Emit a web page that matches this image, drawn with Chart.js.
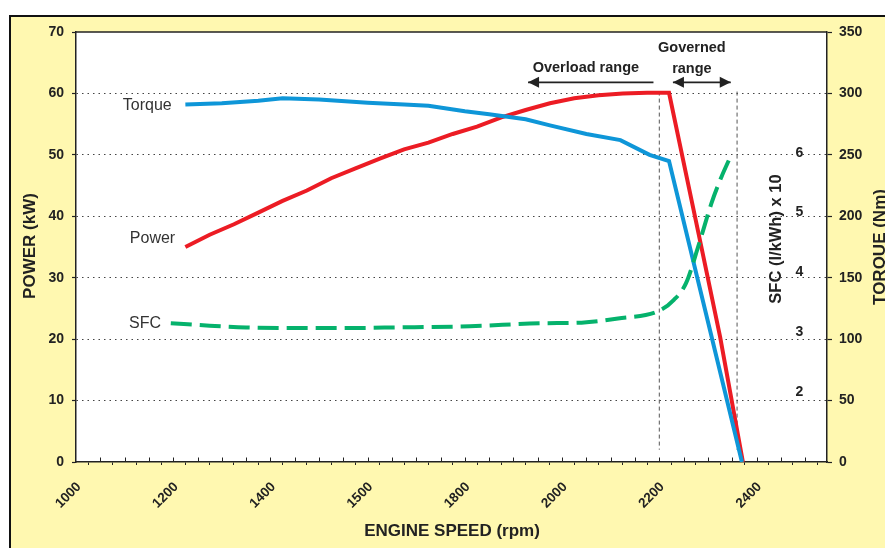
<!DOCTYPE html>
<html>
<head>
<meta charset="utf-8">
<script src="https://cdn.jsdelivr.net/npm/chart.js@4.4.1/dist/chart.umd.min.js"></script>
<style>
  html, body { margin: 0; padding: 0; background: #fff; }
  #wrap { position: relative; width: 885px; height: 548px; overflow: hidden; }
  #frame { position: absolute; left: 9px; top: 15px; width: 900px; height: 560px; background: #fff8b0; border: 2.5px solid #111; }
  #myChart { position: absolute; left: 0; top: 0; }
</style>
</head>
<body>
<div id="wrap">
  <div id="frame"></div>
  <canvas id="myChart" width="885" height="548"></canvas>
</div>
<script>
// values
let rpmTorque = [1225, 1300, 1375, 1425, 1500, 1600, 1675, 1725, 1800, 1850, 1925, 1975, 2050, 2120, 2180, 2220, 2370];
let torqueNm = [291, 292, 294, 296, 295, 292.5, 291, 290, 285.5, 283, 279, 274, 267, 262, 250, 245, 0];

let rpmPower = [1225, 1275, 1325, 1375, 1425, 1475, 1525, 1575, 1625, 1675, 1725, 1775, 1825, 1875, 1925, 1975, 2025, 2075, 2125, 2175, 2220, 2285, 2325, 2372];
let powerKw = [35, 37, 38.7, 40.6, 42.5, 44.2, 46.2, 47.8, 49.4, 50.9, 52, 53.4, 54.6, 56.1, 57.3, 58.4, 59.2, 59.7, 60, 60.1, 60.1, 35.6, 20.4, 0];

let rpmSfc = [1195, 1275, 1350, 1430, 1550, 1660, 1810, 1960, 2040, 2115, 2200, 2230, 2255, 2280, 2307, 2328, 2345];
let sfcValues = [3.15, 3.11, 3.08, 3.07, 3.07, 3.08, 3.10, 3.15, 3.16, 3.23, 3.36, 3.54, 3.82, 4.43, 5.15, 5.60, 5.91];

let rangeLimits = [2200, 2360];
let xTickValues = [1000, 1200, 1400, 1600, 1800, 2000, 2200, 2400];
let xTickLabels = ["1000", "1200", "1400", "1500", "1800", "2000", "2200", "2400"];
let sfcTicks = [2, 3, 4, 5, 6];

function pairs(xs, ys) {
  return xs.map((x, i) => ({ x: x, y: ys[i] }));
}

Chart.defaults.font.family = "'Liberation Sans', Arial, sans-serif";
Chart.defaults.color = "#222";

let ink = "#222";
let tickFont = { size: 14, weight: "bold" };

function arrow(ctx, x1, x2, y, headLeft, headRight) {
  ctx.beginPath();
  ctx.moveTo(x1, y);
  ctx.lineTo(x2, y);
  ctx.stroke();
  let head = (tip, dir) => {
    ctx.beginPath();
    ctx.moveTo(tip, y);
    ctx.lineTo(tip + dir * 11, y - 5.5);
    ctx.lineTo(tip + dir * 11, y + 5.5);
    ctx.closePath();
    ctx.fill();
  };
  if (headLeft) head(x1, 1);
  if (headRight) head(x2, -1);
}

function vText(ctx, text, x, y) {
  ctx.save();
  ctx.translate(x, y);
  ctx.rotate(-Math.PI / 2);
  ctx.textAlign = "center";
  ctx.textBaseline = "middle";
  ctx.fillText(text, 0, 0);
  ctx.restore();
}

let decorations = {
  id: "decorations",
  beforeDraw(chart) {
    let { ctx, chartArea: a } = chart;
    ctx.save();
    ctx.fillStyle = "#fff";
    ctx.fillRect(a.left, a.top, a.right - a.left, a.bottom - a.top);
    ctx.restore();
  },
  afterDraw(chart) {
    let { ctx, chartArea: a, scales } = chart;
    let sx = scales.x, sy = scales.y;
    ctx.save();
    ctx.strokeStyle = ink;
    ctx.fillStyle = ink;

    // top edge of plot box
    ctx.lineWidth = 1.5;
    ctx.beginPath();
    ctx.moveTo(a.left, a.top);
    ctx.lineTo(a.right, a.top);
    ctx.stroke();

    // inward ticks every 50 rpm
    ctx.lineWidth = 1;
    sx.ticks.forEach(t => {
      if (t.value % 50 === 0 && t.value > sx.min) {
        let px = Math.round(sx.getPixelForValue(t.value)) + 0.5;
        ctx.beginPath();
        ctx.moveTo(px, a.bottom);
        ctx.lineTo(px, a.bottom - 4.5);
        ctx.stroke();
      }
    });

    // range arrows
    ctx.lineWidth = 1.7;
    let ay = sy.getPixelForValue(61.8);
    arrow(ctx, sx.getPixelForValue(1930), sx.getPixelForValue(2188), ay, true, false);
    arrow(ctx, sx.getPixelForValue(2228), sx.getPixelForValue(2347), ay, true, true);

    ctx.font = "bold 14.5px 'Liberation Sans', Arial, sans-serif";
    ctx.textAlign = "center";
    ctx.textBaseline = "middle";
    ctx.fillText("Overload range", sx.getPixelForValue(2049), sy.getPixelForValue(64.2));
    ctx.fillText("Governed", sx.getPixelForValue(2267), sy.getPixelForValue(67.4));
    ctx.fillText("range", sx.getPixelForValue(2267), sy.getPixelForValue(64.0));

    // curve names
    ctx.fillStyle = "#333";
    ctx.font = "16px 'Liberation Sans', Arial, sans-serif";
    ctx.textAlign = "right";
    ctx.fillText("Torque", sx.getPixelForValue(1197), sy.getPixelForValue(57.95));
    ctx.fillText("Power", sx.getPixelForValue(1204), sy.getPixelForValue(36.4));
    ctx.fillText("SFC", sx.getPixelForValue(1175), sy.getPixelForValue(22.46));

    // axis titles
    ctx.fillStyle = ink;
    ctx.font = "bold 17px 'Liberation Sans', Arial, sans-serif";
    ctx.textAlign = "center";
    ctx.fillText("ENGINE SPEED (rpm)", 452, 531);
    vText(ctx, "POWER (kW)", 30, 246);
    vText(ctx, "TORQUE (Nm)", 880, 247);
    ctx.font = "bold 16.5px 'Liberation Sans', Arial, sans-serif";
    vText(ctx, "SFC (l/kWh) x 10", 776, 239);
    ctx.restore();
  }
};

let ctx = document.getElementById("myChart");

let graphData = {
  type: "line",
  data: {
    datasets: [
      {
        label: "SFC",
        data: pairs(rpmSfc, sfcValues),
        yAxisID: "sfc",
        borderColor: "#05b26c",
        borderWidth: 4,
        borderDash: [21, 8],
        pointRadius: 0,
        tension: 0.35,
        cubicInterpolationMode: "monotone",
        fill: false,
      },
      {
        label: "Torque",
        data: pairs(rpmTorque, torqueNm),
        yAxisID: "y2",
        borderColor: "#0e96d8",
        borderWidth: 4,
        pointRadius: 0,
        tension: 0,
        fill: false,
      },
      {
        label: "Power",
        data: pairs(rpmPower, powerKw),
        yAxisID: "y",
        borderColor: "#ec1c24",
        borderWidth: 4,
        pointRadius: 0,
        tension: 0,
        fill: false,
      },
      ...rangeLimits.map(r => ({
        label: "limit " + r,
        data: [{ x: r, y: 60.3 }, { x: r, y: 2 }],
        yAxisID: "y",
        borderColor: "#555",
        borderWidth: 1,
        borderDash: [4, 3],
        pointRadius: 0,
        fill: false,
      })),
    ],
  },
  options: {
    responsive: false,
    animation: false,
    devicePixelRatio: 1,
    layout: { padding: { top: 32, left: 0, right: 0, bottom: 0 } },
    plugins: { legend: { display: false }, tooltip: { enabled: false } },
    scales: {
      x: {
        type: "linear",
        position: "bottom",
        min: 1000,
        max: 2545,
        afterBuildTicks: s => {
          let t = [];
          for (let v = 1000; v <= 2525; v += 25) t.push({ value: v });
          s.ticks = t;
        },
        afterFit: s => { s.height = 86; },
        grid: {
          drawOnChartArea: false,
          tickLength: 3,
          tickColor: c => (c.tick && c.tick.value % 50 === 0 ? "rgba(0,0,0,0)" : ink),
        },
        border: { color: ink, width: 1.5 },
        ticks: {
          autoSkip: false,
          maxRotation: 45,
          minRotation: 45,
          padding: 14,
          labelOffset: 3,
          color: ink,
          font: { size: 13.5, weight: "bold" },
          callback: v => {
            let i = xTickValues.indexOf(v);
            return i >= 0 ? xTickLabels[i] : "";
          },
        },
      },
      y: {
        position: "left",
        min: 0,
        max: 70,
        afterFit: s => { s.width = 76; },
        grid: {
          color: c => (c.tick && (c.tick.value === 0 || c.tick.value === 70) ? "rgba(0,0,0,0)" : "#444"),
          lineWidth: 1,
          tickLength: 4,
          tickColor: ink,
          tickWidth: 1.2,
        },
        border: { color: ink, width: 1.5, dash: [1.5, 4] },
        ticks: { stepSize: 10, padding: 8, color: ink, font: tickFont },
      },
      y2: {
        position: "right",
        min: 0,
        max: 350,
        afterFit: s => { s.width = 58; },
        grid: { drawOnChartArea: false, tickLength: 5, tickColor: ink, tickWidth: 1.2 },
        border: { color: ink, width: 1.5 },
        ticks: { stepSize: 50, padding: 7, color: ink, font: tickFont },
      },
      sfc: {
        position: { x: 2496 },
        min: 0.83,
        max: 8.02,
        afterBuildTicks: s => { s.ticks = sfcTicks.map(v => ({ value: v })); },
        grid: { display: false, drawTicks: false },
        border: { display: false },
        ticks: { padding: 0, color: ink, font: tickFont },
      },
    },
  },
  plugins: [decorations],
};

let myChart = new Chart(ctx, graphData);
</script>
</body>
</html>
